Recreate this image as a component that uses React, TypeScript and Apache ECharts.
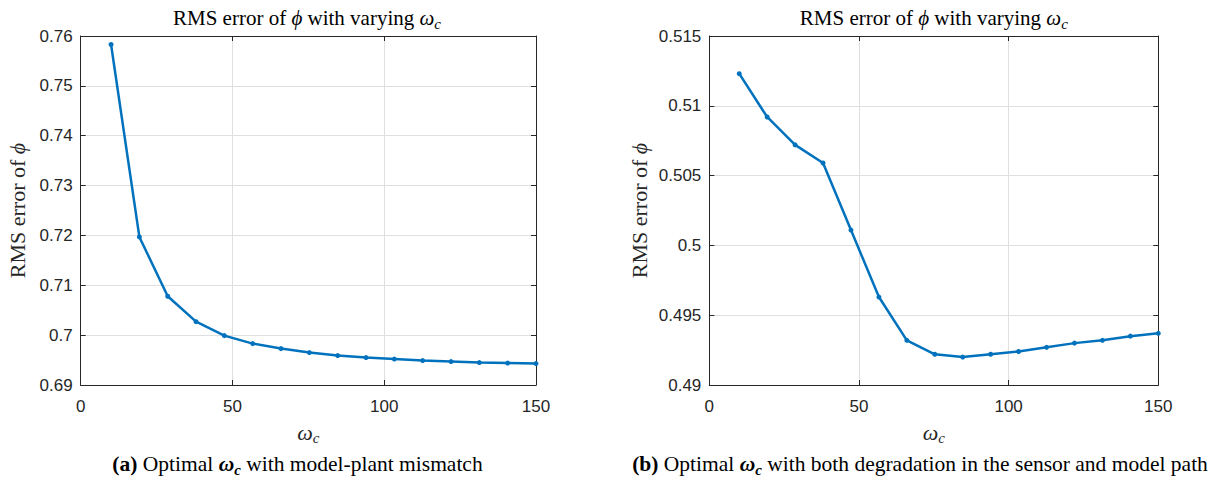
import React, { useEffect, useRef } from "react";
import * as echarts from "echarts";

// ---- data ----
const wcValues = [10, 19.33, 28.67, 38, 47.33, 56.67, 66, 75.33, 84.67, 94, 103.33, 112.67, 122, 131.33, 140.67, 150];
const rmsMismatch = [0.7583, 0.7197, 0.7078, 0.7027, 0.6999, 0.6983, 0.6973, 0.6965, 0.6959, 0.6955, 0.6952, 0.6949, 0.6947, 0.6945, 0.6944, 0.6943];
const rmsDegradation = [0.5123, 0.5092, 0.5072, 0.5059, 0.5011, 0.4963, 0.4932, 0.4922, 0.492, 0.4922, 0.4924, 0.4927, 0.493, 0.4932, 0.4935, 0.4937];
const xTicks = { min: 0, max: 150, interval: 50 };
const yTicksA = { min: 0.69, max: 0.76, interval: 0.01 };
const yTicksB = { min: 0.49, max: 0.515, interval: 0.005 };
const titleText = "RMS error of {it|ϕ} with varying {it|ω}{sub|c}";
const yLabelText = "RMS error of {it|ϕ}";
const xLabelText = "{it|ω}{sub|c}";
const captionA = "{b|(a)} Optimal {bi|ω}{bs|c} with model-plant mismatch";
const captionB = "{b|(b)} Optimal {bi|ω}{bs|c} with both degradation in the sensor and model path";

const SERIF = "'Liberation Serif', 'DejaVu Serif', serif";
const SANS = "'Liberation Sans', Arial, sans-serif";
const AX = "#262626";
const GRIDC = "#dfdfdf";
const LINE = "#0072BD";

const mathRich = (color: string, size: number) => ({
  it: { fontFamily: SERIF, fontSize: size, fontStyle: "italic", color, lineHeight: 26 },
  sub: { fontFamily: SERIF, fontSize: Math.round(size * 0.7), fontStyle: "italic", color, lineHeight: 14, verticalAlign: "bottom" },
});

const captionRich = {
  b: { fontFamily: SERIF, fontSize: 21.5, fontWeight: "bold", color: "#000", lineHeight: 26 },
  bi: { fontFamily: SERIF, fontSize: 21.5, fontWeight: "bold", fontStyle: "italic", color: "#000", lineHeight: 26 },
  bs: { fontFamily: SERIF, fontSize: 15, fontWeight: "bold", fontStyle: "italic", color: "#000", lineHeight: 14, verticalAlign: "bottom" },
};

const grids = [
  { left: 80.7, top: 36, width: 455.3, height: 349 },
  { left: 709.3, top: 36, width: 449, height: 349 },
];

export default function App() {
  const ref = useRef<HTMLDivElement>(null);
  useEffect(() => {
    if (!ref.current) return;
    const chart = echarts.init(ref.current, undefined, { renderer: "svg" });

    const makeX = (gi: number, pos: "bottom" | "top") => ({
      type: "value",
      gridIndex: gi,
      position: pos,
      ...xTicks,
      axisLine: { show: true, onZero: false, lineStyle: { color: AX, width: 1 } },
      axisTick: { show: true, inside: true, length: 5, lineStyle: { color: AX } },
      axisLabel: {
        show: pos === "bottom",
        margin: 13,
        fontFamily: SANS,
        fontSize: 17,
        color: AX,
      },
      splitLine: { show: pos === "bottom", lineStyle: { color: GRIDC, width: 1 } },
      name: pos === "bottom" ? xLabelText : "",
      nameLocation: "middle",
      nameGap: 34,
      nameTextStyle: {
        fontFamily: SERIF,
        fontSize: 22,
        color: AX,
        lineHeight: 26,
        rich: mathRich(AX, 22),
      },
    });

    const makeY = (gi: number, pos: "left" | "right", t: any, gap: number) => ({
      type: "value",
      gridIndex: gi,
      position: pos,
      ...t,
      axisLine: { show: true, onZero: false, lineStyle: { color: AX, width: 1 } },
      axisTick: { show: true, inside: true, length: 5, lineStyle: { color: AX } },
      axisLabel: {
        show: pos === "left",
        margin: 8,
        fontFamily: SANS,
        fontSize: 17,
        color: AX,
      },
      splitLine: { show: pos === "left", lineStyle: { color: GRIDC, width: 1 } },
      name: pos === "left" ? yLabelText : "",
      nameLocation: "middle",
      nameGap: gap,
      nameTextStyle: {
        fontFamily: SERIF,
        fontSize: 22,
        color: AX,
        lineHeight: 26,
        rich: mathRich(AX, 22),
      },
    });

    const titleItem = (text: string, cx: number, cy: number, rich: any, size: number) => ({
      text,
      left: cx,
      top: cy,
      textAlign: "center",
      textVerticalAlign: "middle",
      padding: 0,
      textStyle: {
        fontFamily: SERIF,
        fontSize: size,
        fontWeight: "normal",
        color: "#000",
        lineHeight: 26,
        rich,
      },
    });

    const lineSeries = (gi: number, ys: number[]) => ({
      type: "line",
      xAxisIndex: gi * 2,
      yAxisIndex: gi * 2,
      data: wcValues.map((x, i) => [x, ys[i]]),
      symbol: "circle",
      symbolSize: 5,
      showSymbol: true,
      lineStyle: { color: LINE, width: 2.5 },
      itemStyle: { color: LINE },
      clip: false,
    });

    chart.setOption({
      animation: false,
      backgroundColor: "#ffffff",
      title: [
        titleItem(titleText, 307, 18, mathRich("#000", 21), 21),
        titleItem(titleText, 933.8, 18, mathRich("#000", 21), 21),
        titleItem(captionA, 297.5, 464, captionRich, 21.5),
        titleItem(captionB, 920, 464, captionRich, 21.5),
      ],
      grid: grids.map((g) => ({ ...g, containLabel: false })),
      xAxis: [makeX(0, "bottom"), makeX(0, "top"), makeX(1, "bottom"), makeX(1, "top")],
      yAxis: [
        makeY(0, "left", yTicksA, 50),
        makeY(0, "right", yTicksA, 50),
        makeY(1, "left", yTicksB, 57),
        makeY(1, "right", yTicksB, 57),
      ],
      series: [lineSeries(0, rmsMismatch), lineSeries(1, rmsDegradation)],
    });

    return () => chart.dispose();
  }, []);

  return (
    <div
      ref={ref}
      style={{ position: "fixed", left: 0, top: 0, width: 1217, height: 479, background: "#fff" }}
    />
  );
}
